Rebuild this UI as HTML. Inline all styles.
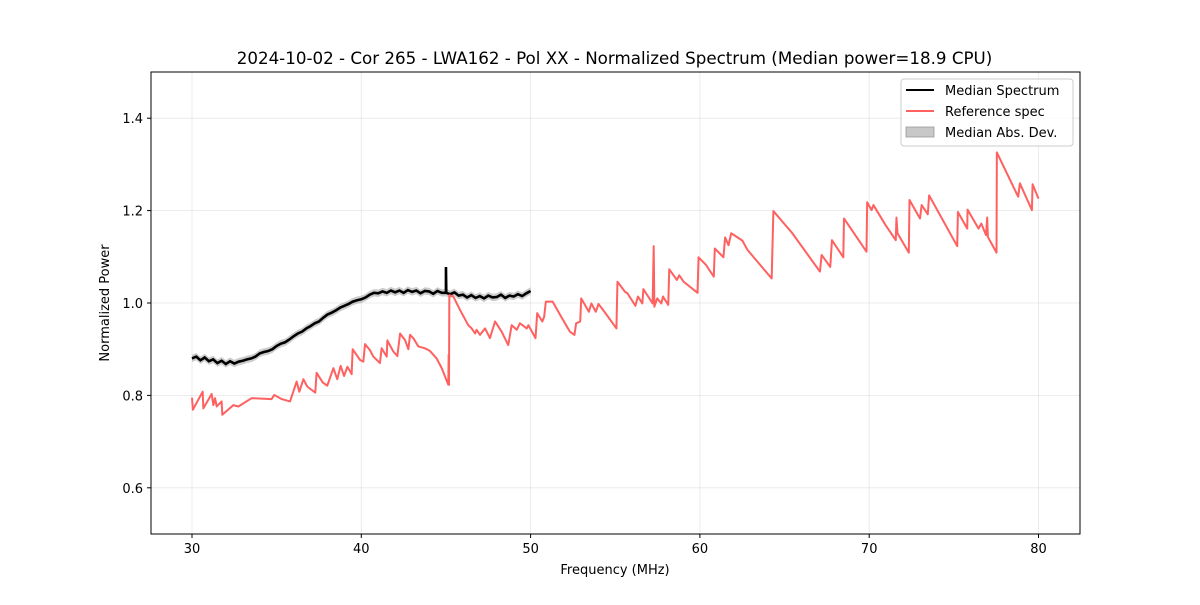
<!DOCTYPE html>
<html><head><meta charset="utf-8"><style>
body{margin:0;background:#fff;font-family:"Liberation Sans","DejaVu Sans",sans-serif}
svg text{font-family:"DejaVu Sans","Liberation Sans",sans-serif}
</style></head><body>
<svg id="chart" width="1200" height="600" viewBox="0 0 1200 600" xmlns="http://www.w3.org/2000/svg">
<rect width="1200" height="600" fill="#fff"/>
<text x="614.5" y="64" text-anchor="middle" font-size="16.7">2024-10-02 - Cor 265 - LWA162 - Pol XX - Normalized Spectrum (Median power=18.9 CPU)</text>
<g id="grid"></g>
<g id="series"></g>
<rect x="151" y="72" width="929" height="462" fill="none" stroke="#000" stroke-width="1"/>
<g id="ticks"></g>
<text x="615" y="574" text-anchor="middle" font-size="13">Frequency (MHz)</text>
<text transform="translate(109,303) rotate(-90)" text-anchor="middle" font-size="13">Normalized Power</text>
<g>
<rect x="901" y="79" width="172" height="67" rx="3" fill="#fff" fill-opacity="0.8" stroke="#ccc"/>
<line x1="906" y1="90" x2="934" y2="90" stroke="#000" stroke-width="2"/>
<text x="945" y="95" font-size="13">Median Spectrum</text>
<line x1="906" y1="111" x2="934" y2="111" stroke="#ff6060" stroke-width="2"/>
<text x="945" y="116" font-size="13">Reference spec</text>
<rect x="906" y="127" width="28" height="10" fill="#c8c8c8" stroke="#999" stroke-width="0.8"/>
<text x="945" y="137" font-size="13">Median Abs. Dev.</text>
</g>
</svg>
<script>
const xTicks=[30,40,50,60,70,80];
const yTicks=[0.6,0.8,1.0,1.2,1.4];
const medianBase=[0.880,0.884,0.876,0.882,0.874,0.878,0.870,0.875,0.868,0.874,0.869,0.873,0.875,0.878,0.880,0.884,0.891,0.894,0.896,0.900,0.907,0.912,0.915,0.921,0.928,0.934,0.938,0.945,0.950,0.956,0.960,0.968,0.975,0.979,0.984,0.990,0.994,0.998,1.003,1.006,1.008,1.012,1.018,1.022,1.021,1.025,1.022,1.027,1.023,1.027,1.022,1.028,1.024,1.027,1.021,1.026,1.025,1.020,1.026,1.022,1.022,1.019,1.023,1.016,1.018,1.012,1.017,1.011,1.015,1.010,1.016,1.012,1.013,1.018,1.011,1.016,1.014,1.019,1.015,1.021,1.026];
const medianStart=30, medianStep=0.25;
const spikeFreq=[44.98,45.0,45.02];
const spikeVal=[1.022,1.078,1.022];
const madVal=0.008;
const refFreq=[30.0,30.05,30.63,30.67,31.16,31.26,31.36,31.46,31.75,31.79,32.44,32.74,33.52,34.70,34.86,35.30,35.79,36.18,36.34,36.58,36.81,37.28,37.36,37.72,37.99,38.35,38.58,38.78,38.98,39.18,39.43,39.49,39.92,40.12,40.22,40.51,40.71,41.10,41.20,41.50,41.54,41.89,42.13,42.29,42.58,42.78,42.88,43.07,43.37,43.76,44.06,44.45,44.75,45.14,45.16,45.18,45.20,45.44,45.83,46.32,46.52,46.72,46.81,47.01,47.31,47.60,47.90,48.29,48.68,48.88,49.18,49.37,49.77,49.87,50.29,50.39,50.69,50.80,50.90,51.30,51.81,52.32,52.59,52.69,52.93,52.99,53.44,53.59,53.85,54.01,54.36,55.07,55.13,55.58,55.72,56.19,56.34,56.60,56.66,57.21,57.27,57.31,57.48,57.72,57.82,58.13,58.19,58.64,58.78,59.04,59.86,59.92,60.37,60.82,60.88,61.39,61.49,61.69,61.85,62.51,62.81,64.24,64.34,65.46,67.09,67.19,67.70,67.80,68.47,68.51,69.84,69.88,70.14,70.25,70.96,71.57,71.61,71.67,72.34,72.38,73.00,73.10,73.46,73.54,75.20,75.24,75.79,75.81,76.46,76.62,76.90,76.97,77.01,77.52,77.54,78.80,78.90,79.61,79.65,80.0];
const refVal=[0.795,0.769,0.808,0.772,0.803,0.779,0.794,0.776,0.787,0.758,0.779,0.776,0.794,0.792,0.801,0.792,0.787,0.830,0.808,0.835,0.819,0.806,0.849,0.828,0.821,0.859,0.835,0.864,0.842,0.862,0.846,0.900,0.877,0.873,0.911,0.898,0.884,0.870,0.902,0.884,0.919,0.895,0.885,0.934,0.920,0.900,0.931,0.924,0.906,0.902,0.896,0.880,0.859,0.823,0.888,0.823,1.017,1.014,0.985,0.952,0.945,0.934,0.942,0.931,0.945,0.924,0.960,0.938,0.909,0.952,0.942,0.956,0.945,0.952,0.924,0.978,0.960,0.970,1.003,1.003,0.970,0.938,0.931,0.956,0.960,1.010,0.981,0.999,0.981,0.998,0.981,0.945,1.046,1.024,1.021,0.994,1.014,0.999,1.030,0.999,1.123,0.992,1.010,0.999,1.014,0.996,1.073,1.050,1.060,1.046,1.022,1.099,1.082,1.057,1.118,1.099,1.142,1.125,1.151,1.135,1.115,1.053,1.199,1.151,1.068,1.104,1.078,1.136,1.099,1.183,1.111,1.218,1.201,1.212,1.169,1.136,1.185,1.151,1.109,1.223,1.183,1.212,1.192,1.233,1.123,1.197,1.161,1.202,1.161,1.172,1.147,1.185,1.143,1.109,1.326,1.230,1.259,1.201,1.257,1.226];

const NS='http://www.w3.org/2000/svg';
const X0=151,X1=1080,Y0=534,Y1=72;
function xs(f){return 192+(f-30)*16.93;}
function ys(v){return Y0-(v-0.5)*(Y0-Y1)/1.0;}
function mk(tag,attrs,parent){const e=document.createElementNS(NS,tag);for(const k in attrs)e.setAttribute(k,attrs[k]);parent.appendChild(e);return e;}
const grid=document.getElementById('grid'),ticks=document.getElementById('ticks'),series=document.getElementById('series');
xTicks.forEach(t=>{const x=xs(t);
 const g=mk('line',{x1:x,x2:x,y1:Y1,y2:Y0,stroke:'#b0b0b0','stroke-opacity':0.3,'stroke-width':0.8},grid);
 
 
 mk('line',{x1:x,x2:x,y1:Y0,y2:Y0+4,stroke:'#000'},ticks);
 const tx=mk('text',{x:x,y:Y0+19,'text-anchor':'middle','font-size':13},ticks);tx.textContent=t;
 
 
});
yTicks.forEach(t=>{const y=ys(t);
 const g=mk('line',{x1:X0,x2:X1,y1:y,y2:y,stroke:'#b0b0b0','stroke-opacity':0.3,'stroke-width':0.8},grid);
 
 
 mk('line',{x1:X0-4,x2:X0,y1:y,y2:y,stroke:'#000'},ticks);
 const tx=mk('text',{x:X0-8,y:y+5,'text-anchor':'end','font-size':13},ticks);tx.textContent=t.toFixed(1);
 
 
});
let pts=medianBase.map((v,i)=>[medianStart+i*medianStep,v]);
spikeFreq.forEach((f,i)=>pts.push([f,spikeVal[i]]));
pts.sort((a,b)=>a[0]-b[0]);
let up=pts.map(p=>xs(p[0])+','+ys(p[1]+madVal)).join(' ');
let dn=pts.slice().reverse().map(p=>xs(p[0])+','+ys(p[1]-madVal)).join(' ');
const band=mk('polygon',{points:up+' '+dn,fill:'#999','fill-opacity':0.5,stroke:'none'},series);


const med=mk('polyline',{points:pts.map(p=>xs(p[0])+','+ys(p[1])).join(' '),fill:'none',stroke:'#000','stroke-width':2.6,'stroke-linejoin':'miter'},series);


const ref=mk('polyline',{points:refFreq.map((f,i)=>xs(f)+','+ys(refVal[i])).join(' '),fill:'none',stroke:'#ff6060','stroke-width':2,'stroke-linejoin':'round'},series);


</script>
</body></html>
